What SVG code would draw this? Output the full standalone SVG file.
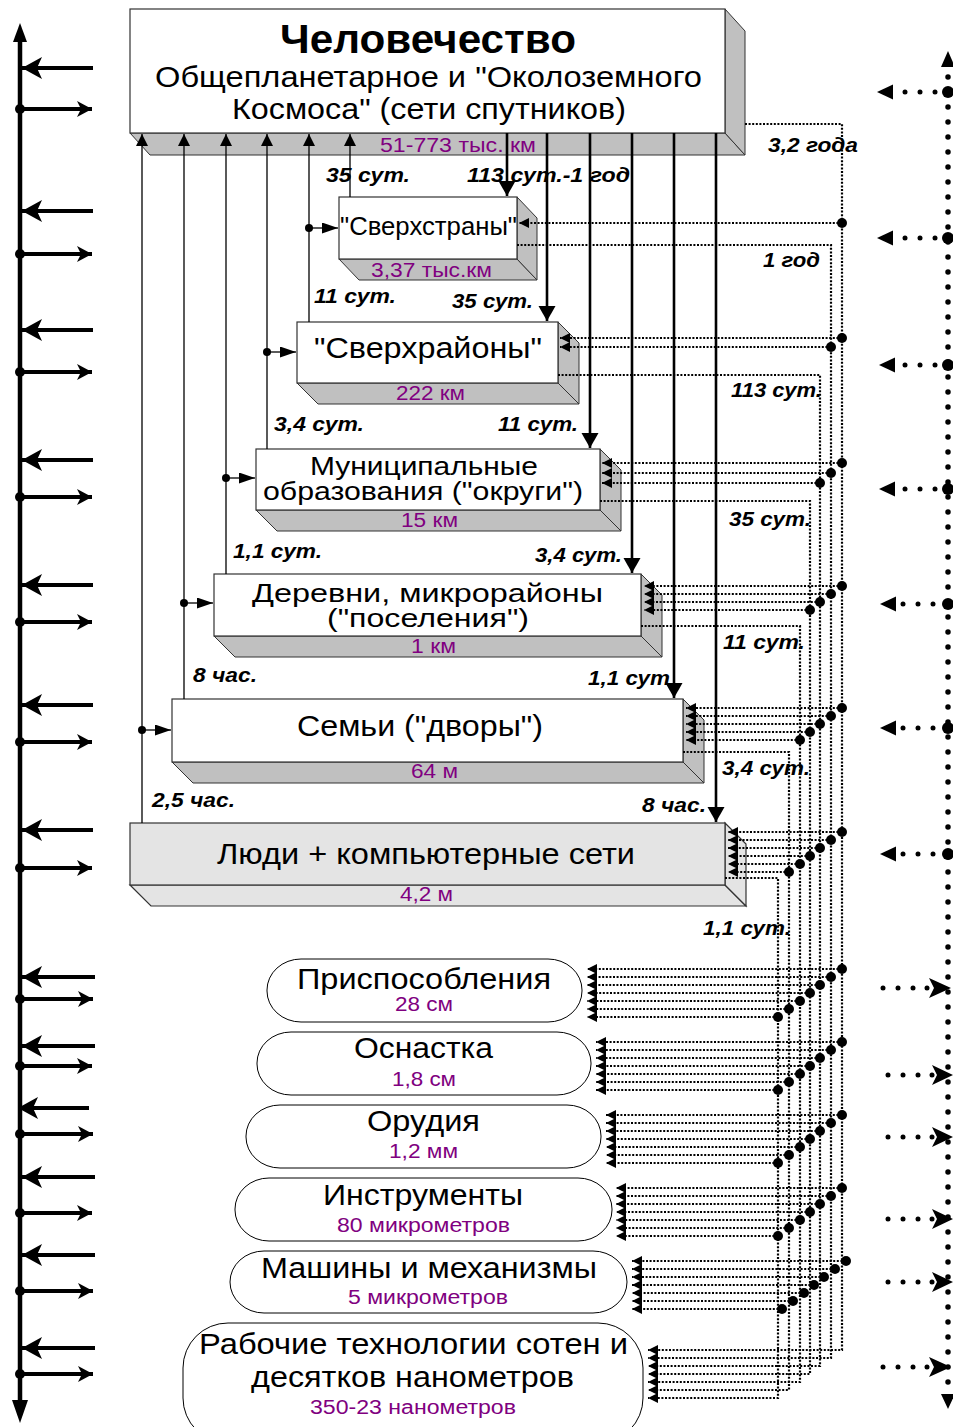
<svg xmlns="http://www.w3.org/2000/svg" width="953" height="1427" viewBox="0 0 953 1427">
<style>
text{font-family:"Liberation Sans",Arial,sans-serif;fill:#000}
.front{fill:#fff;stroke:#333;stroke-width:1.2}
.bev{fill:#c0c0c0;stroke:#333;stroke-width:1}
.lg{fill:#e4e4e4;stroke:#333;stroke-width:1.2}
.tool{fill:#fff;stroke:#000;stroke-width:1}
.p{fill:#800080;font-size:20px}
.lab{font-weight:bold;font-style:italic;font-size:20px}
.thin{stroke:#000;stroke-width:1.3;fill:none}
.thick{stroke:#000;stroke-width:2.6;fill:none}
.dl{stroke:#000;stroke-width:2.2;stroke-dasharray:2 1.6;fill:none}
.da{marker-end:url(#sa)}
.ax{stroke:#000;stroke-width:4.5;fill:none}
.ar{stroke:#000;stroke-width:4;fill:none}
.rdot{stroke:#000;stroke-width:5.5;stroke-dasharray:0 15;stroke-linecap:round;fill:none}
</style>
<defs>
<marker id="sa" markerUnits="userSpaceOnUse" markerWidth="11" markerHeight="10" refX="10" refY="5" orient="auto"><path d="M0,0 L10,5 L0,10 z"/></marker>
<marker id="ua" markerUnits="userSpaceOnUse" markerWidth="12" markerHeight="12" refX="12" refY="6" orient="auto"><path d="M0,0 L12,6 L0,12 z"/></marker>
<marker id="da" markerUnits="userSpaceOnUse" markerWidth="16" markerHeight="18" refX="15" refY="8.5" orient="auto"><path d="M0,0 L15,8.5 L0,17 z"/></marker>
<marker id="ba" markerUnits="userSpaceOnUse" markerWidth="16" markerHeight="11" refX="16" refY="5.5" orient="auto"><path d="M0,0 L16,5.5 L0,11 z"/></marker>
<marker id="bl" markerUnits="userSpaceOnUse" markerWidth="21" markerHeight="22" refX="20" refY="11" orient="auto"><path d="M0,0 L20,11 L0,22 L5,11 z"/></marker>
<marker id="rs" markerUnits="userSpaceOnUse" markerWidth="16" markerHeight="16" refX="15" refY="8" orient="auto"><path d="M0,0 L15,8 L0,16 L4,8 z"/></marker>
</defs>
<rect width="953" height="1427" fill="#fff"/>

<!-- Nodes -->
<g id="n-chelovechestvo">
<polygon class="bev" points="130,133 725,133 745,155 150,155"/>
<polygon class="bev" points="725,9 745,31 745,155 725,133"/>
<rect class="front" x="130" y="9" width="595" height="124"/>
<text x="280" y="53" font-size="40" font-weight="bold" textLength="296" lengthAdjust="spacingAndGlyphs">Человечество</text>
<text x="155" y="87" font-size="29" textLength="547" lengthAdjust="spacingAndGlyphs">Общепланетарное и "Околоземного</text>
<text x="232" y="119" font-size="29" textLength="394" lengthAdjust="spacingAndGlyphs">Космоса" (сети спутников)</text>
<text class="p" x="380" y="152" textLength="156" lengthAdjust="spacingAndGlyphs">51-773 тыс. км</text>
</g>
<g id="n-sverkhstrany">
<polygon class="bev" points="339,259 517,259 537,280 359,280"/>
<polygon class="bev" points="517,197 537,218 537,280 517,259"/>
<rect class="front" x="339" y="197" width="178" height="62"/>
<text x="340" y="235" font-size="25" textLength="177" lengthAdjust="spacingAndGlyphs">"Сверхстраны"</text>
<text class="p" x="371" y="277" textLength="121" lengthAdjust="spacingAndGlyphs">3,37 тыс.км</text>
</g>
<g id="n-sverkhrayony">
<polygon class="bev" points="297,383 558,383 579,404 318,404"/>
<polygon class="bev" points="558,322 579,343 579,404 558,383"/>
<rect class="front" x="297" y="322" width="261" height="61"/>
<text x="314" y="358" font-size="30" textLength="228" lengthAdjust="spacingAndGlyphs">"Сверхрайоны"</text>
<text class="p" x="396" y="400" textLength="69" lengthAdjust="spacingAndGlyphs">222 км</text>
</g>
<g id="n-municipal">
<polygon class="bev" points="256,510 600,510 621,531 277,531"/>
<polygon class="bev" points="600,449 621,470 621,531 600,510"/>
<rect class="front" x="256" y="449" width="344" height="61"/>
<text x="310" y="475" font-size="26" textLength="228" lengthAdjust="spacingAndGlyphs">Муниципальные</text>
<text x="263" y="500" font-size="26" textLength="320" lengthAdjust="spacingAndGlyphs">образования ("округи")</text>
<text class="p" x="401" y="527" textLength="57" lengthAdjust="spacingAndGlyphs">15 км</text>
</g>
<g id="n-derevni">
<polygon class="bev" points="214,636 641,636 662,657 235,657"/>
<polygon class="bev" points="641,574 662,595 662,657 641,636"/>
<rect class="front" x="214" y="574" width="427" height="62"/>
<text x="252" y="602" font-size="26" textLength="351" lengthAdjust="spacingAndGlyphs">Деревни, микрорайоны</text>
<text x="327" y="627" font-size="26" textLength="202" lengthAdjust="spacingAndGlyphs">("поселения")</text>
<text class="p" x="411" y="653" textLength="45" lengthAdjust="spacingAndGlyphs">1 км</text>
</g>
<g id="n-semyi">
<polygon class="bev" points="172,762 683,762 704,783 193,783"/>
<polygon class="bev" points="683,699 704,720 704,783 683,762"/>
<rect class="front" x="172" y="699" width="511" height="63"/>
<text x="297" y="736" font-size="30" textLength="246" lengthAdjust="spacingAndGlyphs">Семьи ("дворы")</text>
<text class="p" x="411" y="778" textLength="47" lengthAdjust="spacingAndGlyphs">64 м</text>
</g>
<g id="n-lyudi">
<polygon class="lg" points="130,885 725,885 746,906 151,906"/>
<polygon class="lg" points="725,823 746,844 746,906 725,885"/>
<rect class="lg" x="130" y="823" width="595" height="62"/>
<text x="217" y="864" font-size="30" textLength="418" lengthAdjust="spacingAndGlyphs">Люди + компьютерные сети</text>
<text class="p" x="400" y="901" textLength="53" lengthAdjust="spacingAndGlyphs">4,2 м</text>
</g>
<g id="n-prisposobleniya">
<rect class="tool" x="267" y="959" width="315" height="63" rx="34" ry="31"/>
<text x="297" y="989" font-size="30" textLength="254" lengthAdjust="spacingAndGlyphs">Приспособления</text>
<text class="p" x="395" y="1011" textLength="58" lengthAdjust="spacingAndGlyphs">28 см</text>
</g>
<g id="n-osnastka">
<rect class="tool" x="257" y="1032" width="334" height="63" rx="34" ry="31"/>
<text x="354" y="1058" font-size="30" textLength="139" lengthAdjust="spacingAndGlyphs">Оснастка</text>
<text class="p" x="392" y="1086" textLength="64" lengthAdjust="spacingAndGlyphs">1,8 см</text>
</g>
<g id="n-orudiya">
<rect class="tool" x="246" y="1105" width="355" height="63" rx="34" ry="31"/>
<text x="367" y="1131" font-size="30" textLength="113" lengthAdjust="spacingAndGlyphs">Орудия</text>
<text class="p" x="389" y="1158" textLength="69" lengthAdjust="spacingAndGlyphs">1,2 мм</text>
</g>
<g id="n-instrumenty">
<rect class="tool" x="235" y="1178" width="377" height="63" rx="34" ry="31"/>
<text x="323" y="1205" font-size="30" textLength="200" lengthAdjust="spacingAndGlyphs">Инструменты</text>
<text class="p" x="337" y="1232" textLength="173" lengthAdjust="spacingAndGlyphs">80 микрометров</text>
</g>
<g id="n-mashiny">
<rect class="tool" x="230" y="1251" width="397" height="62" rx="34" ry="31"/>
<text x="261" y="1278" font-size="30" textLength="336" lengthAdjust="spacingAndGlyphs">Машины и механизмы</text>
<text class="p" x="348" y="1304" textLength="160" lengthAdjust="spacingAndGlyphs">5 микрометров</text>
</g>
<g id="n-rabochie">
<rect class="tool" x="183" y="1323" width="460" height="120" rx="45" ry="45"/>
<text x="199" y="1354" font-size="30" textLength="429" lengthAdjust="spacingAndGlyphs">Рабочие технологии сотен и</text>
<text x="251" y="1387" font-size="30" textLength="323" lengthAdjust="spacingAndGlyphs">десятков нанометров</text>
<text class="p" x="310" y="1414" textLength="206" lengthAdjust="spacingAndGlyphs">350-23 нанометров</text>
</g>

<!-- Connectors -->
<g id="connectors">
<line class="thin" x1="142" y1="823" x2="142" y2="134" marker-end="url(#ua)"/>
<line class="thin" x1="184" y1="699" x2="184" y2="134" marker-end="url(#ua)"/>
<line class="thin" x1="226" y1="574" x2="226" y2="134" marker-end="url(#ua)"/>
<line class="thin" x1="267" y1="449" x2="267" y2="134" marker-end="url(#ua)"/>
<line class="thin" x1="309" y1="322" x2="309" y2="134" marker-end="url(#ua)"/>
<line class="thin" x1="350" y1="197" x2="350" y2="134" marker-end="url(#ua)"/>
<circle cx="309" cy="228" r="4"/><line class="thin" x1="309" y1="228" x2="338" y2="228" marker-end="url(#ba)"/>
<circle cx="267" cy="352" r="4"/><line class="thin" x1="267" y1="352" x2="296" y2="352" marker-end="url(#ba)"/>
<circle cx="226" cy="478" r="4"/><line class="thin" x1="226" y1="478" x2="255" y2="478" marker-end="url(#ba)"/>
<circle cx="184" cy="603" r="4"/><line class="thin" x1="184" y1="603" x2="213" y2="603" marker-end="url(#ba)"/>
<circle cx="142" cy="730" r="4"/><line class="thin" x1="142" y1="730" x2="171" y2="730" marker-end="url(#ba)"/>

<line class="thick" x1="507" y1="133" x2="507" y2="196" marker-end="url(#da)"/>
<line class="thick" x1="547" y1="133" x2="547" y2="321" marker-end="url(#da)"/>
<line class="thick" x1="590" y1="133" x2="590" y2="448" marker-end="url(#da)"/>
<line class="thick" x1="632" y1="133" x2="632" y2="573" marker-end="url(#da)"/>
<line class="thick" x1="674" y1="133" x2="674" y2="698" marker-end="url(#da)"/>
<line class="thick" x1="716" y1="133" x2="716" y2="822" marker-end="url(#da)"/>

<!-- buses -->
<path class="dl da" d="M745,124H842V1350H648"/>
<path class="dl da" d="M517,245H831V1358H648"/>
<path class="dl da" d="M558,375H820V1366H648"/>
<path class="dl da" d="M600,501H810V1374H648"/>
<path class="dl da" d="M641,626H800V1382H648"/>
<path class="dl da" d="M683,752H789V1390H648"/>
<path class="dl da" d="M725,878H778V1398H648"/>

<!-- incoming to boxes -->
<path class="dl da" d="M842,223H519"/>
<path class="dl da" d="M842,338H560"/><path class="dl da" d="M831,347H560"/>
<path class="dl da" d="M842,463H602"/><path class="dl da" d="M831,473H602"/><path class="dl da" d="M820,483H602"/>
<path class="dl da" d="M842,586H644"/><path class="dl da" d="M831,594H644"/><path class="dl da" d="M820,602H644"/><path class="dl da" d="M810,610H644"/>
<path class="dl da" d="M842,708H686"/><path class="dl da" d="M831,716H686"/><path class="dl da" d="M820,724H686"/><path class="dl da" d="M810,732H686"/><path class="dl da" d="M800,740H686"/>
<path class="dl da" d="M842,832H728"/><path class="dl da" d="M831,840H728"/><path class="dl da" d="M820,848H728"/><path class="dl da" d="M810,856H728"/><path class="dl da" d="M800,864H728"/><path class="dl da" d="M789,872H728"/>
<!-- incoming to tools -->
<path class="dl da" d="M842,969H587"/><path class="dl da" d="M831,977H587"/><path class="dl da" d="M820,985H587"/><path class="dl da" d="M810,993H587"/><path class="dl da" d="M800,1001H587"/><path class="dl da" d="M789,1009H587"/><path class="dl da" d="M778,1017H587"/>
<path class="dl da" d="M842,1042H596"/><path class="dl da" d="M831,1050H596"/><path class="dl da" d="M820,1058H596"/><path class="dl da" d="M810,1066H596"/><path class="dl da" d="M800,1074H596"/><path class="dl da" d="M789,1082H596"/><path class="dl da" d="M778,1090H596"/>
<path class="dl da" d="M842,1115H606"/><path class="dl da" d="M831,1123H606"/><path class="dl da" d="M820,1131H606"/><path class="dl da" d="M810,1139H606"/><path class="dl da" d="M800,1147H606"/><path class="dl da" d="M789,1155H606"/><path class="dl da" d="M778,1163H606"/>
<path class="dl da" d="M842,1188H616"/><path class="dl da" d="M831,1196H616"/><path class="dl da" d="M820,1204H616"/><path class="dl da" d="M810,1212H616"/><path class="dl da" d="M800,1220H616"/><path class="dl da" d="M789,1228H616"/><path class="dl da" d="M778,1236H616"/>
<path class="dl da" d="M846,1261H632"/><path class="dl da" d="M835,1269H632"/><path class="dl da" d="M824,1277H632"/><path class="dl da" d="M814,1285H632"/><path class="dl da" d="M804,1293H632"/><path class="dl da" d="M793,1301H632"/><path class="dl da" d="M782,1309H632"/>
<!-- junction dots -->
<g fill="#000">
<circle cx="842" cy="223" r="5"/>
<circle cx="842" cy="338" r="5"/><circle cx="831" cy="347" r="5"/>
<circle cx="842" cy="463" r="5"/><circle cx="831" cy="473" r="5"/><circle cx="820" cy="483" r="5"/>
<circle cx="842" cy="586" r="5"/><circle cx="831" cy="594" r="5"/><circle cx="820" cy="602" r="5"/><circle cx="810" cy="610" r="5"/>
<circle cx="842" cy="708" r="5"/><circle cx="831" cy="716" r="5"/><circle cx="820" cy="724" r="5"/><circle cx="810" cy="732" r="5"/><circle cx="800" cy="740" r="5"/>
<circle cx="842" cy="832" r="5"/><circle cx="831" cy="840" r="5"/><circle cx="820" cy="848" r="5"/><circle cx="810" cy="856" r="5"/><circle cx="800" cy="864" r="5"/><circle cx="789" cy="872" r="5"/>
<circle cx="842" cy="969" r="5"/><circle cx="831" cy="977" r="5"/><circle cx="820" cy="985" r="5"/><circle cx="810" cy="993" r="5"/><circle cx="800" cy="1001" r="5"/><circle cx="789" cy="1009" r="5"/><circle cx="778" cy="1017" r="5"/>
<circle cx="842" cy="1042" r="5"/><circle cx="831" cy="1050" r="5"/><circle cx="820" cy="1058" r="5"/><circle cx="810" cy="1066" r="5"/><circle cx="800" cy="1074" r="5"/><circle cx="789" cy="1082" r="5"/><circle cx="778" cy="1090" r="5"/>
<circle cx="842" cy="1115" r="5"/><circle cx="831" cy="1123" r="5"/><circle cx="820" cy="1131" r="5"/><circle cx="810" cy="1139" r="5"/><circle cx="800" cy="1147" r="5"/><circle cx="789" cy="1155" r="5"/><circle cx="778" cy="1163" r="5"/>
<circle cx="842" cy="1188" r="5"/><circle cx="831" cy="1196" r="5"/><circle cx="820" cy="1204" r="5"/><circle cx="810" cy="1212" r="5"/><circle cx="800" cy="1220" r="5"/><circle cx="789" cy="1228" r="5"/><circle cx="778" cy="1236" r="5"/>
<circle cx="846" cy="1261" r="5"/><circle cx="835" cy="1269" r="5"/><circle cx="824" cy="1277" r="5"/><circle cx="814" cy="1285" r="5"/><circle cx="804" cy="1293" r="5"/><circle cx="793" cy="1301" r="5"/><circle cx="782" cy="1309" r="5"/>
</g>
<!-- connector labels -->
<text class="lab" x="326" y="182" textLength="84" lengthAdjust="spacingAndGlyphs">35 сут.</text>
<text class="lab" x="467" y="182" textLength="163" lengthAdjust="spacingAndGlyphs">113 сут.-1 год</text>
<text class="lab" x="314" y="303" textLength="82" lengthAdjust="spacingAndGlyphs">11 сут.</text>
<text class="lab" x="452" y="308" textLength="81" lengthAdjust="spacingAndGlyphs">35 сут.</text>
<text class="lab" x="274" y="431" textLength="90" lengthAdjust="spacingAndGlyphs">3,4 сут.</text>
<text class="lab" x="498" y="431" textLength="80" lengthAdjust="spacingAndGlyphs">11 сут.</text>
<text class="lab" x="233" y="558" textLength="89" lengthAdjust="spacingAndGlyphs">1,1 сут.</text>
<text class="lab" x="535" y="562" textLength="87" lengthAdjust="spacingAndGlyphs">3,4 сут.</text>
<text class="lab" x="193" y="682" textLength="64" lengthAdjust="spacingAndGlyphs">8 час.</text>
<text class="lab" x="588" y="685" textLength="82" lengthAdjust="spacingAndGlyphs">1,1 сут</text>
<text class="lab" x="152" y="807" textLength="83" lengthAdjust="spacingAndGlyphs">2,5 час.</text>
<text class="lab" x="642" y="812" textLength="64" lengthAdjust="spacingAndGlyphs">8 час.</text>
<text class="lab" x="768" y="152" textLength="90" lengthAdjust="spacingAndGlyphs">3,2 года</text>
<text class="lab" x="763" y="267" textLength="57" lengthAdjust="spacingAndGlyphs">1 год</text>
<text class="lab" x="731" y="397" textLength="91" lengthAdjust="spacingAndGlyphs">113 сут.</text>
<text class="lab" x="729" y="526" textLength="82" lengthAdjust="spacingAndGlyphs">35 сут.</text>
<text class="lab" x="723" y="649" textLength="82" lengthAdjust="spacingAndGlyphs">11 сут.</text>
<text class="lab" x="722" y="775" textLength="88" lengthAdjust="spacingAndGlyphs">3,4 сут.</text>
<text class="lab" x="703" y="935" textLength="88" lengthAdjust="spacingAndGlyphs">1,1 сут.</text>
</g>

<!-- Left axis -->
<g id="left-axis">
<line class="ax" x1="20" y1="38" x2="20" y2="1405"/>
<polygon points="20,23 13,42 27,42"/>
<polygon points="20,1423 12,1400 28,1400"/>
<g class="ar">
<path d="M93,68H22" marker-end="url(#bl)"/><path d="M20,109H92" marker-end="url(#rs)"/>
<path d="M93,211H22" marker-end="url(#bl)"/><path d="M20,254H92" marker-end="url(#rs)"/>
<path d="M93,330H22" marker-end="url(#bl)"/><path d="M20,372H92" marker-end="url(#rs)"/>
<path d="M93,460H22" marker-end="url(#bl)"/><path d="M20,497H92" marker-end="url(#rs)"/>
<path d="M93,585H22" marker-end="url(#bl)"/><path d="M20,622H92" marker-end="url(#rs)"/>
<path d="M93,705H22" marker-end="url(#bl)"/><path d="M20,742H92" marker-end="url(#rs)"/>
<path d="M93,830H22" marker-end="url(#bl)"/><path d="M20,868H92" marker-end="url(#rs)"/>
<path d="M95,977H22" marker-end="url(#bl)"/><path d="M20,999H93" marker-end="url(#rs)"/>
<path d="M95,1046H22" marker-end="url(#bl)"/><path d="M20,1066H92" marker-end="url(#rs)"/>
<path d="M89,1108H18" marker-end="url(#bl)"/><path d="M20,1134H93" marker-end="url(#rs)"/>
<path d="M95,1177H22" marker-end="url(#bl)"/><path d="M20,1213H92" marker-end="url(#rs)"/>
<path d="M95,1255H22" marker-end="url(#bl)"/><path d="M20,1291H93" marker-end="url(#rs)"/>
<path d="M95,1348H22" marker-end="url(#bl)"/><path d="M20,1374H93" marker-end="url(#rs)"/>
</g>
<g fill="#000">
<circle cx="20" cy="109" r="5"/><circle cx="20" cy="254" r="5"/><circle cx="20" cy="372" r="5"/><circle cx="20" cy="497" r="5"/><circle cx="20" cy="622" r="5"/><circle cx="20" cy="742" r="5"/><circle cx="20" cy="868" r="5"/>
<circle cx="20" cy="999" r="5"/><circle cx="20" cy="1066" r="5"/><circle cx="20" cy="1134" r="5"/><circle cx="20" cy="1213" r="5"/><circle cx="20" cy="1291" r="5"/><circle cx="20" cy="1374" r="5"/>
</g>
</g>

<!-- Right axis -->
<g id="right-axis">
<line class="rdot" x1="948" y1="62" x2="948" y2="1398"/>
<polygon points="948,51 941,67 955,67"/>
<polygon points="948,1409 941,1394 955,1394"/>
<g fill="#000">
<circle cx="948" cy="92" r="6"/><circle cx="948" cy="238" r="6"/><circle cx="948" cy="365" r="6"/><circle cx="948" cy="489" r="6"/><circle cx="948" cy="604" r="6"/><circle cx="948" cy="728" r="6"/><circle cx="948" cy="854" r="6"/>
<polygon points="877,92 893,84.5 893,99.5"/><circle cx="905" cy="92" r="2.5"/><circle cx="920" cy="92" r="2.5"/><circle cx="935" cy="92" r="2.5"/>
<polygon points="877,238 893,230.5 893,245.5"/><circle cx="905" cy="238" r="2.5"/><circle cx="920" cy="238" r="2.5"/><circle cx="935" cy="238" r="2.5"/>
<polygon points="879,365 895,357.5 895,372.5"/><circle cx="905" cy="365" r="2.5"/><circle cx="920" cy="365" r="2.5"/><circle cx="935" cy="365" r="2.5"/>
<polygon points="879,489 895,481.5 895,496.5"/><circle cx="905" cy="489" r="2.5"/><circle cx="920" cy="489" r="2.5"/><circle cx="935" cy="489" r="2.5"/>
<polygon points="880,604 896,596.5 896,611.5"/><circle cx="903" cy="604" r="2.5"/><circle cx="918" cy="604" r="2.5"/><circle cx="933" cy="604" r="2.5"/>
<polygon points="880,728 896,720.5 896,735.5"/><circle cx="903" cy="728" r="2.5"/><circle cx="918" cy="728" r="2.5"/><circle cx="933" cy="728" r="2.5"/>
<polygon points="880,854 896,846.5 896,861.5"/><circle cx="903" cy="854" r="2.5"/><circle cx="918" cy="854" r="2.5"/><circle cx="933" cy="854" r="2.5"/>

<circle cx="883" cy="988" r="2.5"/><circle cx="898" cy="988" r="2.5"/><circle cx="913" cy="988" r="2.5"/><circle cx="927" cy="988" r="2.5"/><polygon points="951,988 929,978 934,988 929,998"/>
<circle cx="888" cy="1075" r="2.5"/><circle cx="903" cy="1075" r="2.5"/><circle cx="918" cy="1075" r="2.5"/><circle cx="932" cy="1075" r="2.5"/><polygon points="953,1075 932,1065 937,1075 932,1085"/>
<circle cx="888" cy="1137" r="2.5"/><circle cx="903" cy="1137" r="2.5"/><circle cx="918" cy="1137" r="2.5"/><circle cx="932" cy="1137" r="2.5"/><polygon points="953,1137 932,1127 937,1137 932,1147"/>
<circle cx="888" cy="1219" r="2.5"/><circle cx="903" cy="1219" r="2.5"/><circle cx="918" cy="1219" r="2.5"/><circle cx="932" cy="1219" r="2.5"/><polygon points="953,1219 932,1209 937,1219 932,1229"/>
<circle cx="888" cy="1282" r="2.5"/><circle cx="903" cy="1282" r="2.5"/><circle cx="918" cy="1282" r="2.5"/><circle cx="932" cy="1282" r="2.5"/><polygon points="953,1282 932,1272 937,1282 932,1292"/>
<circle cx="883" cy="1367" r="2.5"/><circle cx="898" cy="1367" r="2.5"/><circle cx="913" cy="1367" r="2.5"/><circle cx="927" cy="1367" r="2.5"/><polygon points="951,1367 929,1357 934,1367 929,1377"/>
</g>
</g>
</svg>
